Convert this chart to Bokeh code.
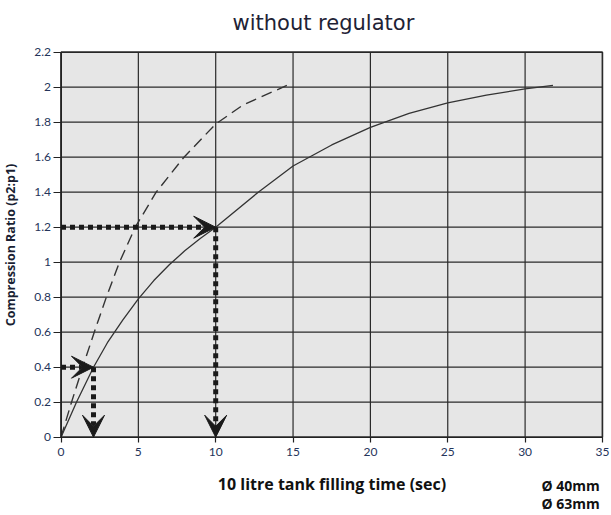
from bokeh.plotting import figure
from bokeh.models import (ColumnDataSource, FixedTicker, Arrow, VeeHead, Range1d, LinearAxis)
from bokeh.core.properties import value
from bokeh.embed import file_html
from bokeh.resources import INLINE

# ---- data ----
x_ticks = [0, 5, 10, 15, 20, 25, 30, 35]
x_tick_labels = ["0", "5", "10", "15", "20", "25", "30", "35"]
y_ticks = [0, 0.2, 0.4, 0.6, 0.8, 1.0, 1.2, 1.4, 1.6, 1.8, 2.0, 2.2]
y_tick_labels = ["0", "0.2", "0.4", "0.6", "0.8", "1", "1.2", "1.4", "1.6", "1.8", "2", "2.2"]

# solid curve (Ø 40mm)
solid_time = [0, 1, 2.1, 3, 4, 5, 6, 7, 8, 9, 10, 12.75, 15, 17.5, 20, 22.5, 25, 27.5, 30, 31.8]
solid_ratio = [0, 0.2, 0.4, 0.54, 0.67, 0.79, 0.895, 0.985, 1.065, 1.135, 1.2, 1.4, 1.55, 1.67,
               1.77, 1.85, 1.91, 1.955, 1.99, 2.01]

# dashed curve (Ø 63mm)
dashed_time = [0, 0.68, 1.4, 2.15, 2.93, 3.78, 4.8, 6.15, 7.95, 10, 11.8, 14.6]
dashed_ratio = [0, 0.2, 0.4, 0.6, 0.8, 1.0, 1.2, 1.4, 1.6, 1.79, 1.9, 2.01]

# reading-guide arrows
guide_time = [2.1, 10]
guide_ratio = [0.4, 1.2]

title_text = "without regulator"
x_title = "10 litre tank filling time (sec)"
y_title = "Compression Ratio (p2:p1)"
legend_texts = ["Ø 40mm", "Ø 63mm"]

# ---- figure ----
# The frame covers the whole canvas under the title; the axes are pinned at 0 so that
# tick labels, axis titles and the texts under the box are all drawn inside it.
TOP = 40
FW, FH = 611, 515 - TOP
px_per_x = 15.47
px_per_y = 175.0
x_lo = x_ticks[0] - 60.5 / px_per_x
x_hi = x_lo + FW / px_per_x
y_lo = y_ticks[0] - 78.3 / px_per_y
y_hi = y_lo + FH / px_per_y

p = figure(frame_width=FW, frame_height=FH,
           x_range=Range1d(x_lo, x_hi), y_range=Range1d(y_lo, y_hi),
           x_axis_location=None, y_axis_location=None,
           output_backend="svg", toolbar_location=None,
           min_border_left=0, min_border_right=0,
           min_border_top=TOP, min_border_bottom=0,
           background_fill_color="white", border_fill_color="white",
           title=title_text)
p.outline_line_color = None
p.xgrid.visible = False
p.ygrid.visible = False

p.title.align = "left"
p.title.offset = 232
p.title.text_font = "DejaVu Sans"
p.title.text_font_size = "21px"
p.title.text_font_style = "normal"
p.title.text_color = "#1e2235"
p.title.standoff = 12

# gray plotting box with border
p.quad(left=[x_ticks[0]], right=[x_ticks[-1]], bottom=[y_ticks[0]], top=[y_ticks[-1]],
       fill_color="#e6e6e6", line_color="#222222", line_width=1.5, level="image")

# grid lines limited to the box
nx, ny = len(x_ticks), len(y_ticks)
p.segment(x0=x_ticks, y0=[y_ticks[0]] * nx, x1=x_ticks, y1=[y_ticks[-1]] * nx,
          line_color="#2a2a2a", line_width=1.2, level="underlay")
p.segment(x0=[x_ticks[0]] * ny, y0=y_ticks, x1=[x_ticks[-1]] * ny, y1=y_ticks,
          line_color="#2a2a2a", line_width=1.2, level="underlay")

xaxis = LinearAxis(fixed_location=y_ticks[0])
yaxis = LinearAxis(fixed_location=x_ticks[0])
p.add_layout(xaxis, "below")
p.add_layout(yaxis, "left")

tick_color = "#25345a"
for ax in (xaxis, yaxis):
    ax.major_label_text_font = "Lato"
    ax.major_label_text_font_size = "12px"
    ax.major_label_text_color = tick_color
    ax.minor_tick_line_color = None
    ax.major_tick_in = 0
    ax.axis_line_color = "#222222"
    ax.major_tick_line_color = "#222222"
    ax.major_tick_line_width = 1.2

xaxis.ticker = FixedTicker(ticks=x_ticks)
xaxis.bounds = (x_ticks[0], x_ticks[-1])
xaxis.major_label_overrides = {t: l for t, l in zip(x_ticks, x_tick_labels)}
xaxis.major_tick_out = 5
xaxis.major_label_standoff = 6
xaxis.axis_label = x_title
xaxis.axis_label_text_font = "Open Sans"
xaxis.axis_label_text_font_style = "bold"
xaxis.axis_label_text_font_size = "16px"
xaxis.axis_label_text_color = "#111111"
xaxis.axis_label_standoff = 13

yaxis.ticker = FixedTicker(ticks=y_ticks)
yaxis.bounds = (y_ticks[0], y_ticks[-1])
yaxis.major_label_overrides = {t: l for t, l in zip(y_ticks, y_tick_labels)}
yaxis.major_tick_out = 8
yaxis.major_label_standoff = 2
yaxis.axis_label = y_title
yaxis.axis_label_text_font = "Open Sans"
yaxis.axis_label_text_font_style = "bold"
yaxis.axis_label_text_font_size = "12.5px"
yaxis.axis_label_text_color = "#1a1f33"
yaxis.axis_label_standoff = 13

# curves
p.line(solid_time, solid_ratio, line_color="#333333", line_width=1.3)
p.line(dashed_time, dashed_ratio, line_color="#333333", line_width=1.4, line_dash="11 6")

# guide arrows (dotted, square dots)
src_h = ColumnDataSource(dict(x0=[x_ticks[0]] * len(guide_time), y0=guide_ratio,
                              x1=guide_time, y1=guide_ratio))
src_v = ColumnDataSource(dict(x0=guide_time, y0=guide_ratio,
                              x1=guide_time, y1=[y_ticks[0]] * len(guide_time)))
for src in (src_h, src_v):
    p.add_layout(Arrow(end=VeeHead(size=22, fill_color="#1a1a1a", line_color="#1a1a1a", line_width=1),
                       x_start="x0", y_start="y0", x_end="x1", y_end="y1",
                       line_color="#1a1a1a", line_width=5, line_dash="5 4", line_cap="butt",
                       source=src))

# legend texts under the box, right side
leg_x = x_ticks[-1] - 61 / px_per_x
leg_y = [y_ticks[0] - 48 / px_per_y, y_ticks[0] - 66 / px_per_y]
p.text(x=[leg_x, leg_x], y=leg_y, text=legend_texts,
       text_font=value("Open Sans"), text_font_style="bold", text_font_size="14px",
       text_color="#111111", text_align="left", text_baseline="alphabetic")

open("out.html", "w").write(file_html(p, INLINE))
